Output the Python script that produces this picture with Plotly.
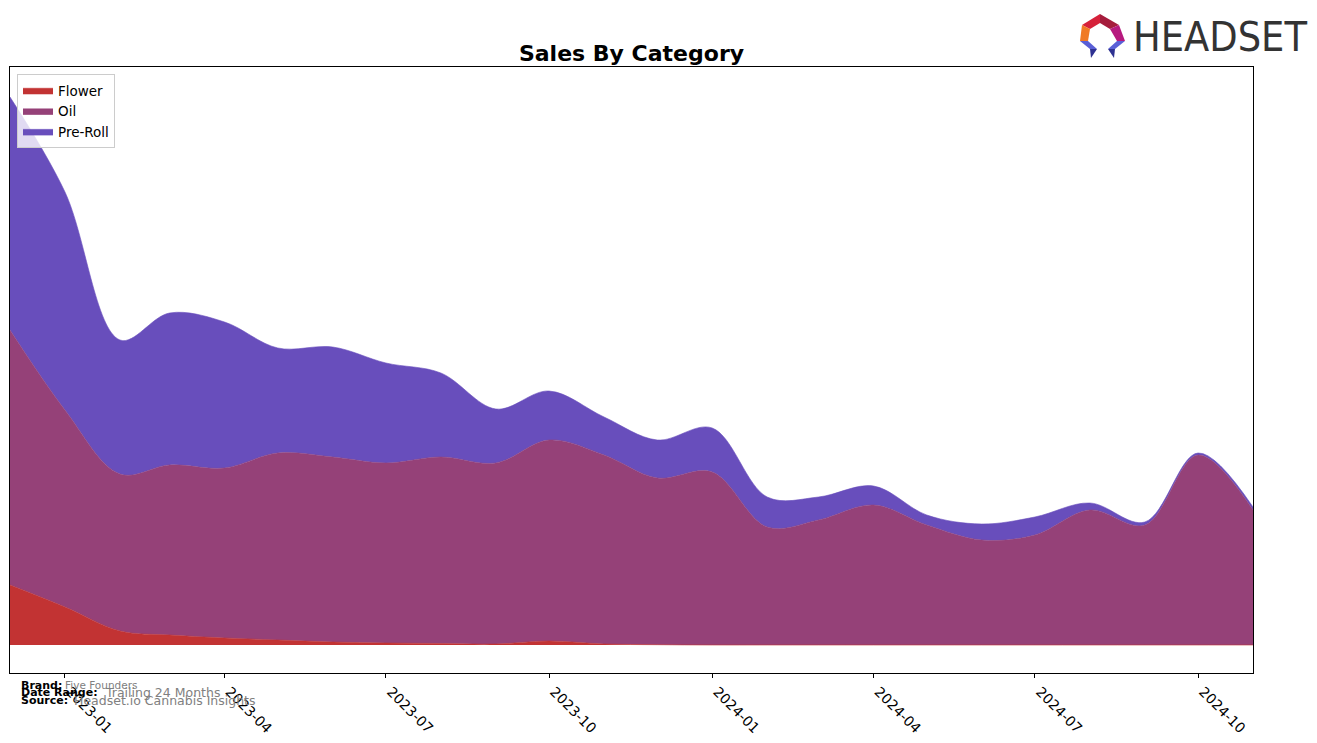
import plotly.graph_objects as go

# ---------------- data ----------------
months = ["2022-12-01", "2023-01-01", "2023-02-01", "2023-03-01", "2023-04-01", "2023-05-01",
          "2023-06-01", "2023-07-01", "2023-08-01", "2023-09-01", "2023-10-01", "2023-11-01",
          "2023-12-01", "2024-01-01", "2024-02-01", "2024-03-01", "2024-04-01", "2024-05-01",
          "2024-06-01", "2024-07-01", "2024-08-01", "2024-09-01", "2024-10-01", "2024-11-01"]

flower = [60, 38, 14, 10, 7, 5, 3, 2, 1.5, 1, 4, 1, 0.3, 0, 0, 0, 0, 0, 0, 0, 0, 0, 0, 0]
oil = [255, 197, 157, 170, 170, 187, 185, 180, 186.5, 181, 201, 189, 166.7, 173, 118, 125,
       140, 120, 105, 110, 135, 120, 190, 135]
preroll = [233, 218, 134, 152, 146, 105, 110, 100, 84, 54, 49, 38, 38, 44, 30, 23, 19, 10,
           16, 18, 7, 3, 2, 3]

tick_vals = ["2023-01-01", "2023-04-01", "2023-07-01", "2023-10-01",
             "2024-01-01", "2024-04-01", "2024-07-01", "2024-10-01"]

series = [("Flower", flower, "#C23333"), ("Oil", oil, "#954178"), ("Pre-Roll", preroll, "#684EBC")]

# ---------------- figure ----------------
W, H = 1317, 743
L, R, T, B = 10, 1253, 67, 673

fig = go.Figure()
for name, vals, col in series:
    fig.add_trace(go.Scatter(
        x=months, y=vals, name=name, mode="lines", stackgroup="one",
        line=dict(color=col, width=0.6, shape="spline", smoothing=1.0),
        fillcolor=col, showlegend=True, hoverinfo="skip"))


def px(x):
    return (x - L) / (R - L)


def py(y):
    return (B - y) / (B - T)


# logo (approximation) drawn as shapes
logo_polys = [
    ([(1082, 25), (1100, 14), (1100, 23), (1090, 29)], "#D6213A"),
    ([(1100, 14), (1119, 25), (1110, 29), (1100, 23)], "#A51C3C"),
    ([(1082, 25), (1090, 29), (1088, 41), (1080, 41)], "#F07A24"),
    ([(1119, 25), (1125, 41), (1117, 41), (1110, 29)], "#B7197E"),
    ([(1080, 41), (1088, 41), (1097, 49), (1090, 49)], "#5A5FD6"),
    ([(1090, 49), (1097, 49), (1091, 58)], "#2E3191"),
    ([(1125, 41), (1117, 41), (1108, 49), (1115, 49)], "#5A5FD6"),
    ([(1115, 49), (1108, 49), (1114, 58)], "#2E3191"),
]
shapes = []
for pts, col in logo_polys:
    path = "M " + " L ".join(f"{px(a):.5f},{py(b):.5f}" for a, b in pts) + " Z"
    shapes.append(dict(type="path", xref="paper", yref="paper", path=path,
                       fillcolor=col, line=dict(width=0)))

annotations = [
    dict(text="HEADSET", x=px(1131), y=py(37), xref="paper", yref="paper",
         xanchor="left", yanchor="middle", showarrow=False,
         font=dict(family="DejaVu Sans Condensed", size=41, color="#333333")),
    dict(text="<b>Brand:</b>", x=px(19), y=py(685), xref="paper", yref="paper",
         xanchor="left", yanchor="middle", showarrow=False,
         font=dict(family="DejaVu Sans", size=11, color="black")),
    dict(text="Five Founders", x=px(63), y=py(685), xref="paper", yref="paper",
         xanchor="left", yanchor="middle", showarrow=False,
         font=dict(family="DejaVu Sans", size=10.5, color="#808080")),
    dict(text="<b>Date Range:</b>", x=px(19), y=py(692), xref="paper", yref="paper",
         xanchor="left", yanchor="middle", showarrow=False,
         font=dict(family="DejaVu Sans", size=11, color="black")),
    dict(text="Trailing 24 Months", x=px(103), y=py(692), xref="paper", yref="paper",
         xanchor="left", yanchor="middle", showarrow=False,
         font=dict(family="DejaVu Sans", size=12.5, color="#808080")),
    dict(text="<b>Source:</b>", x=px(19), y=py(700), xref="paper", yref="paper",
         xanchor="left", yanchor="middle", showarrow=False,
         font=dict(family="DejaVu Sans", size=11, color="black")),
    dict(text="Headset.io Cannabis Insights", x=px(72), y=py(700), xref="paper", yref="paper",
         xanchor="left", yanchor="middle", showarrow=False,
         font=dict(family="DejaVu Sans", size=12.5, color="#808080")),
]

fig.update_layout(
    width=W, height=H,
    margin=dict(l=L, r=W - R, t=T, b=H - B, pad=0, autoexpand=False),
    paper_bgcolor="white", plot_bgcolor="white",
    font=dict(family="DejaVu Sans", size=13.5, color="black"),
    title=dict(text="<b>Sales By Category</b>", x=(L + R) / 2 / W, xanchor="center",
               y=1 - 53 / H, yanchor="middle", font=dict(size=22, color="black")),
    showlegend=True,
    legend=dict(x=px(17), y=py(74), xanchor="left", yanchor="top", traceorder="normal",
                bgcolor="rgba(255,255,255,0.8)", bordercolor="#cccccc", borderwidth=1,
                font=dict(size=13.5), itemwidth=30, tracegroupgap=0),
    shapes=shapes,
    annotations=annotations,
)

fig.update_xaxes(
    range=["2022-12-01", "2024-11-01"], tickvals=tick_vals, tickformat="%Y-%m",
    tickangle=45, ticks="outside", ticklen=4, tickcolor="black", ticklabelshift=5,
    automargin=False,
    showline=True, linecolor="black", linewidth=1, mirror=True, showgrid=False,
    zeroline=False, tickfont=dict(size=14))
fig.update_yaxes(
    range=[-28, 578], showticklabels=False, ticks="", showline=True, linecolor="black",
    linewidth=1, mirror=True, showgrid=False, zeroline=False, automargin=False)

fig.write_html("out.html")
